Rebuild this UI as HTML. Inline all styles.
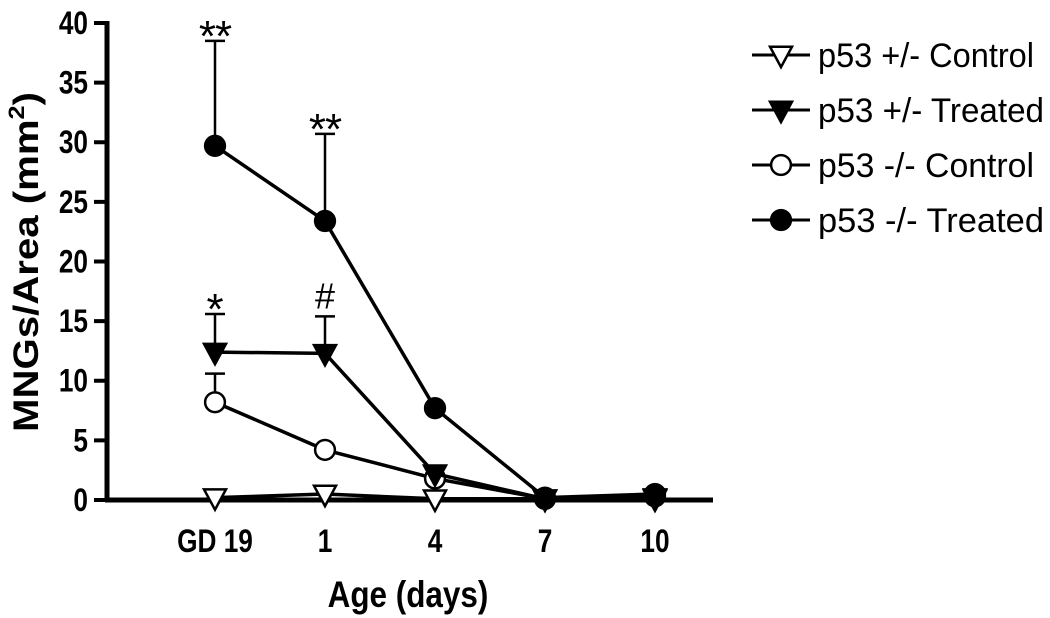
<!DOCTYPE html>
<html><head><meta charset="utf-8"><style>
body{margin:0;background:#fff;}
svg{display:block;font-family:"Liberation Sans",Arial,sans-serif;}
</style></head><body>
<svg id="chart" width="1050" height="618" viewBox="0 0 1050 618"></svg>
<script>
const categories=["GD 19","1","4","7","10"];
const yTicks=[0,5,10,15,20,25,30,35,40];
const hetControl=[0.2,0.5,0.1,0.1,0.1];
const hetTreated=[12.4,12.3,2.2,0.1,0.2];
const hetTreatedErr=[3.2,3.1,0.6,0,0];
const nullControl=[8.2,4.2,1.8,0.1,0.3];
const nullControlErr=[2.4,0,0.4,0,0];
const nullTreated=[29.7,23.4,7.7,0.2,0.5];
const nullTreatedErr=[8.8,7.3,0,0,0];
const annotations=[{i:0,v:38.5,t:"**"},{i:1,v:30.7,t:"**"},{i:0,v:15.6,t:"*"},{i:1,v:15.4,t:"#"}];
const legendLabels=["p53 +/- Control","p53 +/- Treated","p53 -/- Control","p53 -/- Treated"];

const NS="http://www.w3.org/2000/svg";
const svg=document.getElementById('chart');
const x0=107,y0=500,yTop=23,xEnd=713;
const xs=i=>215+i*110;
const ys=v=>y0-(v/40)*(y0-yTop);
function mk(tag,attrs,parent){const e=document.createElementNS(NS,tag);for(const k in attrs)e.setAttribute(k,attrs[k]);(parent||svg).appendChild(e);return e;}

let e=mk('line',{x1:x0,y1:yTop-2,x2:x0,y2:y0+2,stroke:'#000','stroke-width':5});


e=mk('line',{x1:x0-2,y1:y0,x2:xEnd,y2:y0,stroke:'#000','stroke-width':5});


yTicks.forEach(v=>{
  const t=mk('line',{x1:x0-13,y1:ys(v),x2:x0,y2:ys(v),stroke:'#000','stroke-width':4});
  
  
  const lx=x0-19;
  const l=mk('text',{x:lx,y:ys(v)+11,'text-anchor':'end','font-size':32,'font-weight':'bold',transform:`translate(${lx} 0) scale(0.82 1) translate(${-lx} 0)`});
  l.textContent=v;
  
  
});
categories.forEach((c,i)=>{
  const l=mk('text',{x:xs(i),y:552,'text-anchor':'middle','font-size':32,'font-weight':'bold',transform:`translate(${xs(i)} 0) scale(0.82 1) translate(${-xs(i)} 0)`});
  l.textContent=c;
  
  
});
e=mk('text',{x:408,y:607,'text-anchor':'middle','font-size':37,'font-weight':'bold',transform:'translate(408 0) scale(0.85 1) translate(-408 0)'});
e.textContent='Age (days)';


e=mk('text',{x:0,y:0,'text-anchor':'middle','font-size':35,'font-weight':'bold',textLength:340,lengthAdjust:'spacingAndGlyphs',transform:'translate(38 262) rotate(-90)'});
e.innerHTML='MNGs/Area (mm<tspan dy="-14" font-size="22">2</tspan><tspan dy="14">)</tspan>';



function marker(type,cx,cy,parent,r){
  r=r||11;
  if(type==='tri-open'||type==='tri-fill'){
    return mk('polygon',{points:`${cx-r},${cy-r*0.75} ${cx+r},${cy-r*0.75} ${cx},${cy+r*1.1}`,fill:type==='tri-fill'?'#000':'#fff',stroke:'#000','stroke-width':2.5},parent);
  }
  return mk('circle',{cx,cy,r:r*0.9,fill:type==='circ-fill'?'#000':'#fff',stroke:'#000','stroke-width':2.5},parent);
}
const series=[
 {name:'p53-het-control',vals:hetControl,err:null,m:'tri-open'},
 {name:'p53-null-control',vals:nullControl,err:nullControlErr,m:'circ-open'},
 {name:'p53-het-treated',vals:hetTreated,err:hetTreatedErr,m:'tri-fill'},
 {name:'p53-null-treated',vals:nullTreated,err:nullTreatedErr,m:'circ-fill'}
];
series.forEach(s=>{
  const g=mk('g',{});
  
  
  if(s.err) s.vals.forEach((v,i)=>{
    if(!s.err[i])return;
    const top=ys(v+s.err[i]);
    const eb=mk('path',{d:`M${xs(i)},${ys(v)} V${top} M${xs(i)-10},${top} H${xs(i)+10}`,stroke:'#000','stroke-width':2.5,fill:'none'},g);
    
    
  });
  const ln=mk('polyline',{points:s.vals.map((v,i)=>xs(i)+','+ys(v)).join(' '),fill:'none',stroke:'#000','stroke-width':3.5},g);
  
  
  s.vals.forEach((v,i)=>{
    const p=marker(s.m,xs(i),ys(v),g);
    
    
  });
});
annotations.forEach(a=>{
  const t=mk('text',{x:xs(a.i),y:ys(a.v)+(a.t==='#'?-8:10),'text-anchor':'middle','font-size':a.t==='#'?36:44,'letter-spacing':a.t==='**'?-1:0});
  t.textContent=a.t;
  
  
});
const lm=['tri-open','tri-fill','circ-open','circ-fill'];
const ly=[55,110,165,220];
legendLabels.forEach((lab,i)=>{
  const g=mk('g',{});
  
  
  mk('line',{x1:752,y1:ly[i],x2:810,y2:ly[i],stroke:'#000','stroke-width':3},g);
  marker(lm[i],781,ly[i],g,11);
  const t=mk('text',{x:818,y:ly[i]+12,'font-size':34,textLength:lab.indexOf('Treated')>0?226:216,lengthAdjust:'spacingAndGlyphs'},g);
  t.textContent=lab;
});
</script>
</body></html>
